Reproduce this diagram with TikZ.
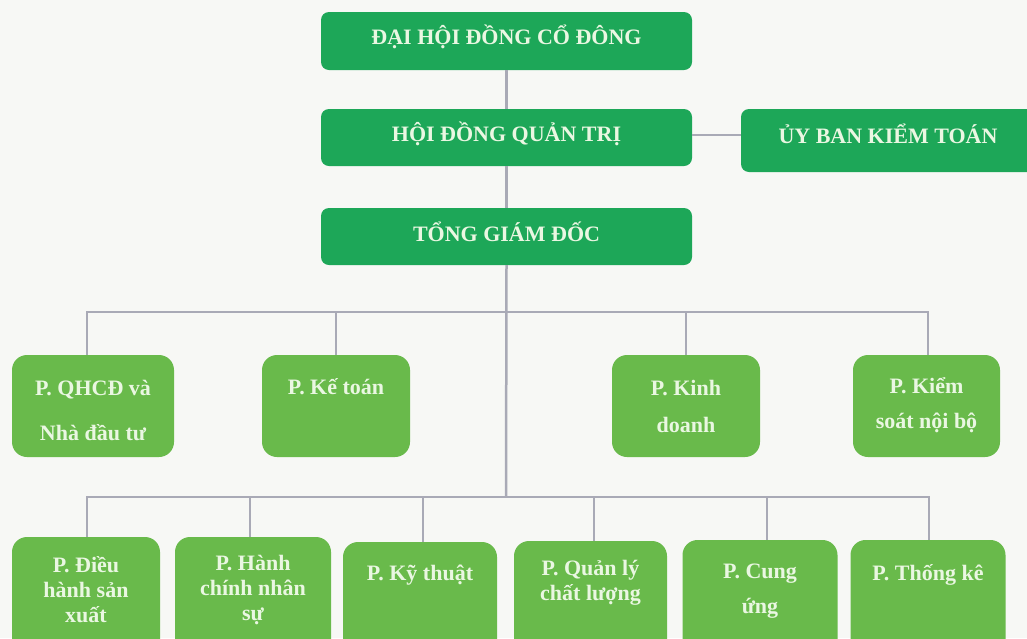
\documentclass[tikz,border=0pt]{standalone}
\usepackage{fontspec}
\setmainfont{Liberation Serif}
\definecolor{bgc}{HTML}{F7F8F5}
\definecolor{dkg}{HTML}{1DA758}
\definecolor{ltg}{HTML}{69BA4B}
\definecolor{lnc}{HTML}{A9AAB6}
\definecolor{txc}{HTML}{EAF7E2}
\tikzset{
  dkbox/.style={fill=dkg, draw=none, rounded corners=8pt, inner sep=0pt},
  ltbox/.style={fill=ltg, draw=none, rounded corners=15pt, inner sep=0pt},
  ttl/.style={text=txc, font=\fontsize{22}{26}\selectfont\bfseries, inner sep=0pt, align=center},
  lbl/.style={text=txc, font=\fontsize{22}{25}\selectfont\bfseries, inner sep=0pt, align=center},
  conn/.style={draw=lnc, line width=2.5pt}
}
\begin{document}
\begin{tikzpicture}[x=1pt,y=-1pt]
\useasboundingbox (0,0) rectangle (1027,638);
\clip (0,0) rectangle (1027,638);
\fill[bgc] (0,0) rectangle (1027,638);

% top boxes
\node[dkbox, minimum width=371, minimum height=58] (dh) at (506.5,41) {};
\node[dkbox, minimum width=371, minimum height=57] (hd) at (506.5,137.5) {};
\node[dkbox, minimum width=371, minimum height=57] (tg) at (506.5,236.5) {};
\node[dkbox, minimum width=304, minimum height=63] (ub) at (893,140.5) {};

% row 1
\node[ltbox, minimum width=162, minimum height=102] (ra) at (93,406) {};
\node[ltbox, minimum width=148, minimum height=102] (rb) at (336,406) {};
\node[ltbox, minimum width=148, minimum height=102] (rc) at (686,406) {};
\node[ltbox, minimum width=147, minimum height=102] (rd) at (926.5,406) {};

% row 2
\node[ltbox, minimum width=148, minimum height=123] (sa) at (86,598.5) {};
\node[ltbox, minimum width=156, minimum height=123] (sb) at (253,598.5) {};
\node[ltbox, minimum width=154, minimum height=118] (sc) at (420,601) {};
\node[ltbox, minimum width=153, minimum height=119] (sd) at (590.5,600.5) {};
\node[ltbox, minimum width=155, minimum height=120] (se) at (760,600) {};
\node[ltbox, minimum width=155, minimum height=120] (sf) at (928,600) {};

% connectors
\coordinate (j1) at (506,312);
\coordinate (j2) at (506,497);
\draw[conn] (dh.south) -- (hd.north);
\draw[conn] (hd.east |- 0,135) -- (ub.west |- 0,135);
\draw[conn] (hd.south) -- (tg.north);
\draw[conn] (tg.south) -- (j2);
\draw[conn] ([xshift=-6pt]ra.north) |- (j1) -| ([xshift=1.5pt]rd.north);
\draw[conn] (j1) -| (rb.north);
\draw[conn] (j1) -| (rc.north);
\draw[conn] ([xshift=1pt]sa.north) |- (j2) -| ([xshift=1pt]sf.north);
\draw[conn] (j2) -| ([xshift=-3pt]sb.north);
\draw[conn] (j2) -| ([xshift=3pt]sc.north);
\draw[conn] (j2) -| ([xshift=3.5pt]sd.north);
\draw[conn] (j2) -| ([xshift=7pt]se.north);

% texts
\node[ttl] (tdh) at (506.5,37) {ĐẠI HỘI ĐỒNG CỔ ĐÔNG};
\node[ttl] (thd) at (506.5,134) {HỘI ĐỒNG QUẢN TRỊ};
\node[ttl] (ttg) at (506.5,232) {TỔNG GIÁM ĐỐC};
\node[ttl] (tub) at (888,134) {ỦY BAN KIỂM TOÁN};

\node[lbl, font=\fontsize{22}{45}\selectfont\bfseries] (tra) at (93,410) {P. QHCĐ và\\Nhà đầu tư};
\node[lbl] (trb) at (336,387) {P. Kế toán};
\node[lbl, font=\fontsize{22}{37}\selectfont\bfseries] (trc) at (686,406) {P. Kinh\\doanh};
\node[lbl, font=\fontsize{22}{35}\selectfont\bfseries] (trd) at (926.5,405) {P. Kiểm\\soát nội bộ};

\node[lbl] (tsa) at (86,590) {P. Điều\\hành sản\\xuất};
\node[lbl] (tsb) at (253,590) {P. Hành\\chính nhân\\sự};
\node[lbl] (tsc) at (420,575) {P. Kỹ thuật};
\node[lbl] (tsd) at (590.5,583) {P. Quản lý\\chất lượng};
\node[lbl, font=\fontsize{22}{35}\selectfont\bfseries] (tse) at (760,591) {P. Cung\\ứng};
\node[lbl] (tsf) at (928,575) {P. Thống kê};
\end{tikzpicture}
\end{document}
